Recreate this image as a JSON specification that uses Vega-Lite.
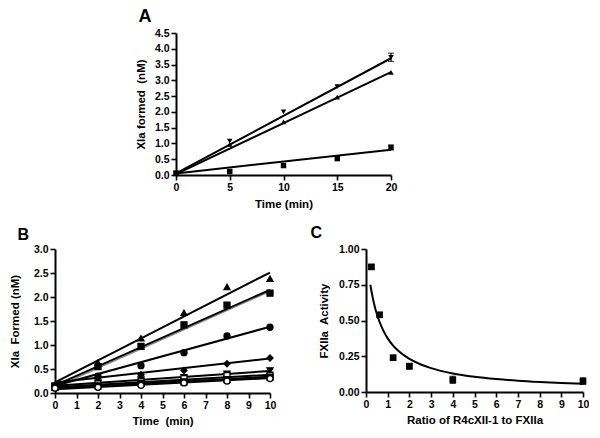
{
  "$schema": "https://vega.github.io/schema/vega-lite/v6.json",
  "padding": {"left": 9, "top": 8, "right": 0, "bottom": 0},
  "background": "white",
  "config": {
    "font": "Liberation Sans",
    "view": {"stroke": null},
    "axis": {
      "grid": false, "domainColor": "black", "domainWidth": 2, "tickColor": "black", "tickWidth": 1.6, "tickSize": 5,
      "labelFont": "Liberation Sans", "labelFontSize": 10.5, "labelFontWeight": "bold", "labelColor": "black", "labelPadding": 2,
      "labelFlush": false, "labelOverlap": false,
      "titleFont": "Liberation Sans", "titleFontSize": 11.5, "titleFontWeight": "bold", "titleColor": "black"
    },
    "title": {"font": "Liberation Sans", "fontWeight": "bold", "fontSize": 16, "color": "black", "anchor": "start", "frame": "bounds"}
  },
  "resolve": {"scale": {"shape": "independent", "fill": "independent"}},
  "datasets": {
    "A_pts": [
      {"series": "v", "t": 0, "y": 0.06}, {"series": "v", "t": 5, "y": 1.07}, {"series": "v", "t": 10, "y": 2.0}, {"series": "v", "t": 15, "y": 2.8}, {"series": "v", "t": 20, "y": 3.73},
      {"series": "^", "t": 0, "y": 0.04}, {"series": "^", "t": 5, "y": 0.97}, {"series": "^", "t": 10, "y": 1.68}, {"series": "^", "t": 15, "y": 2.47}, {"series": "^", "t": 20, "y": 3.25},
      {"series": "s", "t": 0, "y": 0.05}, {"series": "s", "t": 5, "y": 0.11}, {"series": "s", "t": 10, "y": 0.3}, {"series": "s", "t": 15, "y": 0.52}, {"series": "s", "t": 20, "y": 0.87}
    ],
    "A_fit": [
      {"series": "v", "t": 0, "y": 0.05}, {"series": "v", "t": 20, "y": 3.7},
      {"series": "^", "t": 0, "y": 0.03}, {"series": "^", "t": 20, "y": 3.26},
      {"series": "s", "t": 0, "y": 0.05}, {"series": "s", "t": 20, "y": 0.8}
    ],
    "A_err": [
      {"t": 20, "lo": 3.6, "hi": 3.86}, {"t": 20, "lo": 0.8, "hi": 0.95}, {"t": 0, "lo": 0.0, "hi": 0.12}
    ],
    "B_pts": [
      {"series": "up", "t": 0, "y": 0.15}, {"series": "up", "t": 2, "y": 0.63}, {"series": "up", "t": 4, "y": 1.14}, {"series": "up", "t": 6, "y": 1.67}, {"series": "up", "t": 8, "y": 2.21}, {"series": "up", "t": 10, "y": 2.38},
      {"series": "sq", "t": 0, "y": 0.15}, {"series": "sq", "t": 2, "y": 0.55}, {"series": "sq", "t": 4, "y": 0.97}, {"series": "sq", "t": 6, "y": 1.42}, {"series": "sq", "t": 8, "y": 1.83}, {"series": "sq", "t": 10, "y": 2.08},
      {"series": "ci", "t": 0, "y": 0.12}, {"series": "ci", "t": 2, "y": 0.35}, {"series": "ci", "t": 4, "y": 0.57}, {"series": "ci", "t": 6, "y": 0.84}, {"series": "ci", "t": 8, "y": 1.19}, {"series": "ci", "t": 10, "y": 1.37},
      {"series": "di", "t": 0, "y": 0.15}, {"series": "di", "t": 2, "y": 0.32}, {"series": "di", "t": 4, "y": 0.38}, {"series": "di", "t": 6, "y": 0.47}, {"series": "di", "t": 8, "y": 0.61}, {"series": "di", "t": 10, "y": 0.73},
      {"series": "dn", "t": 0, "y": 0.13}, {"series": "dn", "t": 2, "y": 0.22}, {"series": "dn", "t": 4, "y": 0.28}, {"series": "dn", "t": 6, "y": 0.33}, {"series": "dn", "t": 8, "y": 0.4}, {"series": "dn", "t": 10, "y": 0.47},
      {"series": "osq", "t": 0, "y": 0.12}, {"series": "osq", "t": 2, "y": 0.19}, {"series": "osq", "t": 4, "y": 0.24}, {"series": "osq", "t": 6, "y": 0.3}, {"series": "osq", "t": 8, "y": 0.36}, {"series": "osq", "t": 10, "y": 0.37},
      {"series": "bsq", "t": 0, "y": 0.12}, {"series": "bsq", "t": 2, "y": 0.15}, {"series": "bsq", "t": 4, "y": 0.2}, {"series": "bsq", "t": 6, "y": 0.23}, {"series": "bsq", "t": 8, "y": 0.28}, {"series": "bsq", "t": 10, "y": 0.33},
      {"series": "oci", "t": 0, "y": 0.1}, {"series": "oci", "t": 2, "y": 0.12}, {"series": "oci", "t": 4, "y": 0.16}, {"series": "oci", "t": 6, "y": 0.21}, {"series": "oci", "t": 8, "y": 0.25}, {"series": "oci", "t": 10, "y": 0.3}
    ],
    "B_fit": [
      {"series": "up", "t": 0, "y": 0.22}, {"series": "up", "t": 10, "y": 2.51},
      {"series": "sq", "t": 0, "y": 0.16}, {"series": "sq", "t": 10, "y": 2.15},
      {"series": "ci", "t": 0, "y": 0.15}, {"series": "ci", "t": 10, "y": 1.38},
      {"series": "di", "t": 0, "y": 0.22}, {"series": "di", "t": 10, "y": 0.72},
      {"series": "dn", "t": 0, "y": 0.15}, {"series": "dn", "t": 10, "y": 0.46},
      {"series": "osq", "t": 0, "y": 0.12}, {"series": "osq", "t": 10, "y": 0.38},
      {"series": "bsq", "t": 0, "y": 0.1}, {"series": "bsq", "t": 10, "y": 0.34},
      {"series": "oci", "t": 0, "y": 0.08}, {"series": "oci", "t": 10, "y": 0.31}
    ],
    "B_fit2": [
      {"series": "sq2", "t": 0, "y": 0.12}, {"series": "sq2", "t": 10, "y": 2.12}
    ],
    "B_err": [
      {"t": 10, "lo": 0.42, "hi": 0.5}, {"t": 8, "lo": 0.36, "hi": 0.43}, {"t": 10, "lo": 0.33, "hi": 0.41}
    ],
    "C_pts": [
      {"t": 0.25, "y": 0.875}, {"t": 0.625, "y": 0.54}, {"t": 1.25, "y": 0.24}, {"t": 2, "y": 0.18}, {"t": 4, "y": 0.085}, {"t": 10, "y": 0.075}
    ],
    "C_err": [
      {"t": 0.25, "lo": 0.86, "hi": 0.89}, {"t": 2, "lo": 0.16, "hi": 0.2}, {"t": 4, "lo": 0.06, "hi": 0.11}, {"t": 10, "lo": 0.055, "hi": 0.1}
    ],
    "C_fit": [
      {"t": 0.2, "y": 0.75}, {"t": 0.3, "y": 0.667}, {"t": 0.4, "y": 0.6}, {"t": 0.5, "y": 0.545}, {"t": 0.6, "y": 0.5},
      {"t": 0.8, "y": 0.429}, {"t": 1.0, "y": 0.375}, {"t": 1.25, "y": 0.324}, {"t": 1.5, "y": 0.286}, {"t": 2, "y": 0.231},
      {"t": 2.5, "y": 0.194}, {"t": 3, "y": 0.167}, {"t": 4, "y": 0.13}, {"t": 5, "y": 0.107}, {"t": 6, "y": 0.091},
      {"t": 7, "y": 0.079}, {"t": 8, "y": 0.07}, {"t": 9, "y": 0.0625}, {"t": 10, "y": 0.057}
    ]
  },
  "spacing": 15,
  "vconcat": [
    {
      "spacing": 0,
      "resolve": {"scale": {"shape": "independent", "fill": "independent"}},
      "hconcat": [
        {"width": 80, "height": 1, "data": {"values": []}, "mark": "text"},
        {
          "width": 215, "height": 142,
          "title": {"text": "A", "fontSize": 18, "dx": 3, "offset": 2},
          "encoding": {
            "x": {"field": "t", "type": "quantitative", "scale": {"domain": [0, 20], "nice": false, "zero": false},
                  "axis": {"values": [0, 5, 10, 15, 20], "title": "Time (min)", "titlePadding": 6}},
            "y": {"field": "y", "type": "quantitative", "scale": {"domain": [0, 4.5], "nice": false},
                  "axis": {"values": [0, 0.5, 1, 1.5, 2, 2.5, 3, 3.5, 4, 4.5], "format": ".1f", "title": "XIa formed\u00a0 (nM)", "titlePadding": 8}}
          },
          "layer": [
            {"data": {"name": "A_fit"}, "mark": {"type": "line", "color": "black", "strokeWidth": 2}, "encoding": {"detail": {"field": "series"}}},
            {"data": {"name": "A_err"}, "mark": {"type": "rule", "color": "black", "strokeWidth": 1.2},
             "encoding": {"y": {"field": "lo", "type": "quantitative"}, "y2": {"field": "hi"}}},
            {"data": {"name": "A_err"}, "mark": {"type": "tick", "orient": "horizontal", "color": "black", "size": 6, "thickness": 1.2},
             "encoding": {"y": {"field": "lo", "type": "quantitative"}}},
            {"data": {"name": "A_err"}, "mark": {"type": "tick", "orient": "horizontal", "color": "black", "size": 6, "thickness": 1.2},
             "encoding": {"y": {"field": "hi", "type": "quantitative"}}},
            {"data": {"name": "A_pts"}, "mark": {"type": "point", "filled": true, "size": 30, "opacity": 1, "color": "black"},
             "encoding": {"shape": {"field": "series", "type": "nominal", "legend": null,
               "scale": {"domain": ["v", "^", "s"], "range": ["triangle-down", "triangle-up", "square"]}}}}
          ]
        }
      ]
    },
    {
      "spacing": 34,
      "resolve": {"scale": {"shape": "independent", "fill": "independent"}},
      "hconcat": [
        {
          "width": 215, "height": 144,
          "title": {"text": "B", "dx": 8, "offset": 1},
          "encoding": {
            "x": {"field": "t", "type": "quantitative", "scale": {"domain": [0, 10], "nice": false, "zero": false},
                  "axis": {"values": [0, 1, 2, 3, 4, 5, 6, 7, 8, 9, 10], "title": "Time\u00a0 (min)", "titlePadding": 5}},
            "y": {"field": "y", "type": "quantitative", "scale": {"domain": [0, 3], "nice": false},
                  "axis": {"values": [0, 0.5, 1, 1.5, 2, 2.5, 3], "format": ".1f", "title": "XIa\u00a0 Formed (nM)", "titlePadding": 13}}
          },
          "layer": [
            {"data": {"name": "B_fit2"}, "mark": {"type": "line", "color": "#888888", "strokeWidth": 1.5}, "encoding": {"detail": {"field": "series"}}},
            {"data": {"name": "B_fit"}, "mark": {"type": "line", "color": "black", "strokeWidth": 2}, "encoding": {"detail": {"field": "series"}}},
            {"data": {"name": "B_err"}, "mark": {"type": "rule", "color": "black", "strokeWidth": 1.2},
             "encoding": {"y": {"field": "lo", "type": "quantitative"}, "y2": {"field": "hi"}}},
            {"data": {"name": "B_err"}, "mark": {"type": "tick", "orient": "horizontal", "color": "black", "size": 6, "thickness": 1.2},
             "encoding": {"y": {"field": "lo", "type": "quantitative"}}},
            {"data": {"name": "B_err"}, "mark": {"type": "tick", "orient": "horizontal", "color": "black", "size": 6, "thickness": 1.2},
             "encoding": {"y": {"field": "hi", "type": "quantitative"}}},
            {"data": {"name": "B_pts"}, "mark": {"type": "point", "filled": true, "size": 36, "opacity": 1, "stroke": "black", "strokeWidth": 1.3},
             "encoding": {
               "shape": {"field": "series", "type": "nominal", "legend": null,
                 "scale": {"domain": ["up", "sq", "ci", "di", "dn", "osq", "bsq", "oci"], "range": ["triangle-up", "square", "circle", "diamond", "triangle-down", "square", "square", "circle"]}},
               "fill": {"field": "series", "type": "nominal", "legend": null,
                 "scale": {"domain": ["up", "sq", "ci", "di", "dn", "osq", "bsq", "oci"], "range": ["black", "black", "black", "black", "black", "white", "black", "white"]}}
             }}
          ]
        },
        {
          "width": 217, "height": 143,
          "title": {"text": "C", "dx": -8, "offset": 3},
          "encoding": {
            "x": {"field": "t", "type": "quantitative", "scale": {"domain": [0, 10], "nice": false, "zero": false},
                  "axis": {"values": [0, 1, 2, 3, 4, 5, 6, 7, 8, 9, 10], "title": "Ratio of R4cXII-1 to FXIIa", "titlePadding": 5}},
            "y": {"field": "y", "type": "quantitative", "scale": {"domain": [0, 1], "nice": false},
                  "axis": {"values": [0, 0.25, 0.5, 0.75, 1], "format": ".2f", "title": "FXIIa\u00a0 Activity", "titlePadding": 9}}
          },
          "layer": [
            {"data": {"name": "C_fit"}, "mark": {"type": "line", "color": "black", "strokeWidth": 2, "interpolate": "monotone"}, "encoding": {}},
            {"data": {"name": "C_err"}, "mark": {"type": "rule", "color": "black", "strokeWidth": 1.2},
             "encoding": {"y": {"field": "lo", "type": "quantitative"}, "y2": {"field": "hi"}}},
            {"data": {"name": "C_err"}, "mark": {"type": "tick", "orient": "horizontal", "color": "black", "size": 6, "thickness": 1.2},
             "encoding": {"y": {"field": "lo", "type": "quantitative"}}},
            {"data": {"name": "C_err"}, "mark": {"type": "tick", "orient": "horizontal", "color": "black", "size": 6, "thickness": 1.2},
             "encoding": {"y": {"field": "hi", "type": "quantitative"}}},
            {"data": {"name": "C_pts"}, "mark": {"type": "point", "filled": true, "size": 45, "opacity": 1, "color": "black", "shape": "square"}, "encoding": {}}
          ]
        }
      ]
    }
  ]
}
